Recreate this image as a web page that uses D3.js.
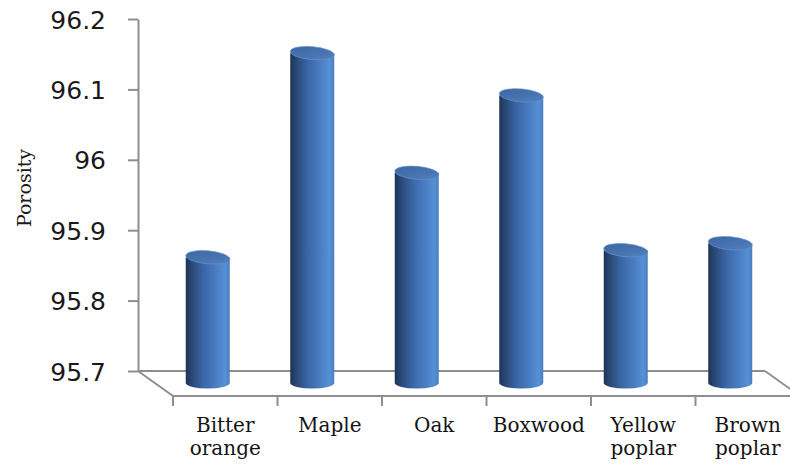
<!DOCTYPE html>
<html>
<head>
<meta charset="utf-8">
<script src="https://cdn.jsdelivr.net/npm/d3@7"></script>
<style>
  html, body { margin: 0; padding: 0; background: #ffffff; }
  svg { display: block; }
</style>
</head>
<body>
<svg id="chart" width="790" height="466"></svg>
<script>
// Porosity of six wood species
const categories = [["Bitter", "orange"], ["Maple"], ["Oak"], ["Boxwood"], ["Yellow", "poplar"], ["Brown", "poplar"]];
const porosity = [95.87, 96.16, 95.99, 96.10, 95.88, 95.89];
const yTicks = [95.7, 95.8, 95.9, 96, 96.1, 96.2];
const yTitle = "Porosity";

const svg = d3.select("#chart");

// 3D frame: back wall axis at x0, floor projected forward by (dx, dy)
const x0 = 138, dx = 35, dy = 25;
const yTop = 19, yBase = 371;
const slot = 104.5;

const y = d3.scaleLinear().domain([yTicks[0], yTicks[yTicks.length - 1]]).range([yBase, yTop]);
const x = d3.scaleBand()
  .domain(categories.map((c, i) => i))
  .range([x0 + dx, x0 + dx + slot * categories.length])
  .paddingInner(0).paddingOuter(0);

const axisColor = "#8e8e8e";

// gradients for the cylinder bodies and caps
const defs = svg.append("defs");
const grad = defs.append("linearGradient").attr("id", "cyl").attr("x1", 0).attr("x2", 1).attr("y1", 0).attr("y2", 0);
[[0, "#1d3255"], [0.12, "#284672"], [0.4, "#3a66a6"], [0.72, "#4b80c6"], [0.9, "#5690d6"], [1, "#4a7dc0"]]
  .forEach(([o, c]) => grad.append("stop").attr("offset", o).attr("stop-color", c));
const topGrad = defs.append("linearGradient").attr("id", "cylTop").attr("x1", 0).attr("x2", 1).attr("y1", 0).attr("y2", 1);
[[0, "#3c66a2"], [0.6, "#4874b2"], [1, "#5683c2"]]
  .forEach(([o, c]) => topGrad.append("stop").attr("offset", o).attr("stop-color", c));

// floor outline
const floor = svg.append("g").attr("stroke", axisColor).attr("stroke-width", 2).attr("fill", "none");
const backRight = x0 + slot * categories.length;
floor.append("line").attr("x1", x0).attr("y1", yBase).attr("x2", backRight).attr("y2", yBase);
floor.append("line").attr("x1", x0).attr("y1", yBase).attr("x2", x0 + dx).attr("y2", yBase + dy);
floor.append("line").attr("x1", x0 + dx).attr("y1", yBase + dy).attr("x2", backRight + dx).attr("y2", yBase + dy);
floor.append("line").attr("x1", backRight).attr("y1", yBase).attr("x2", backRight + dx).attr("y2", yBase + dy);

// category tick marks on the front edge of the floor
floor.selectAll("line.ct")
  .data(d3.range(categories.length + 1))
  .join("line")
  .attr("class", "ct")
  .attr("x1", i => x0 + dx + i * x.bandwidth())
  .attr("x2", i => x0 + dx + i * x.bandwidth())
  .attr("y1", yBase + dy)
  .attr("y2", yBase + dy + 10);

// value axis
const yAxis = d3.axisLeft(y).tickValues(yTicks).tickSize(10).tickSizeOuter(0).tickPadding(22)
  .tickFormat(d => d3.format("")(+d.toFixed(1)));
const ya = svg.append("g").attr("transform", `translate(${x0},0)`).call(yAxis);
ya.select(".domain").attr("stroke", axisColor).attr("stroke-width", 2);
ya.selectAll(".tick line").attr("stroke", axisColor).attr("stroke-width", 2);
ya.selectAll(".tick text")
  .attr("font-family", "'DejaVu Sans', Verdana, sans-serif")
  .attr("font-size", 25)
  .attr("fill", "#1a1a1a")
  .attr("dy", "0.36em");

// axis title
svg.append("text")
  .attr("transform", `translate(31,188) rotate(-90)`)
  .attr("text-anchor", "middle")
  .attr("font-family", "'DejaVu Serif', serif")
  .attr("font-size", 19)
  .attr("fill", "#1a1a1a")
  .text(yTitle);

// cylinders, sitting half-way into the floor depth
const shiftX = dx / 2;
const rx = 22, ry = 6.5;
const baseY = y(yTicks[0]) + 12;
const bars = svg.append("g");
porosity.forEach((v, i) => {
  const cx = x(i) + x.bandwidth() / 2 - shiftX;
  const topY = y(v) + 6;
  const g = bars.append("g");
  g.append("path")
    .attr("d", `M${cx - rx},${topY} L${cx - rx},${baseY} A${rx},5.5 0 0 0 ${cx + rx},${baseY} L${cx + rx},${topY} Z`)
    .attr("fill", "url(#cyl)");
  g.append("ellipse")
    .attr("cx", cx).attr("cy", topY)
    .attr("rx", rx).attr("ry", ry)
    .attr("transform", `rotate(5,${cx},${topY})`)
    .attr("fill", "url(#cylTop)")
    .attr("stroke", "#6690c8").attr("stroke-width", 0.7);
});

// category labels
const labels = svg.append("g")
  .attr("font-family", "'DejaVu Serif', serif")
  .attr("font-size", 20)
  .attr("fill", "#141414")
  .attr("text-anchor", "middle");
categories.forEach((lines, i) => {
  const t = labels.append("text")
    .attr("x", x(i) + x.bandwidth() / 2)
    .attr("y", 432);
  lines.forEach((ln, j) => {
    t.append("tspan").attr("x", x(i) + x.bandwidth() / 2).attr("dy", j === 0 ? 0 : 23).text(ln);
  });
});
</script>
</body>
</html>
